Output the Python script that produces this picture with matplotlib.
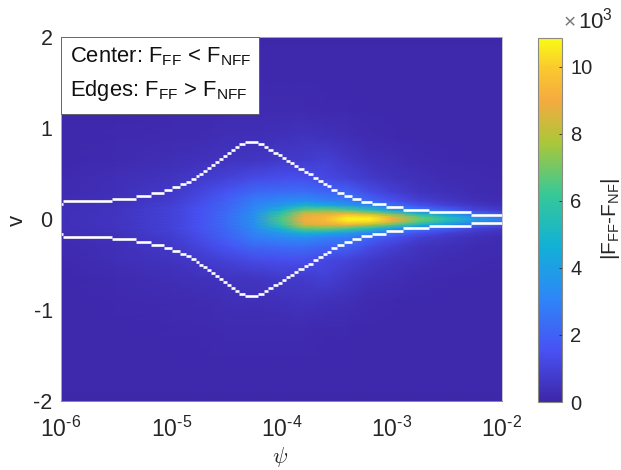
#!/usr/bin/env python3
"""|F_FF - F_NFF| map over psi and v, with the sign-change contour in white."""
import numpy as np
import matplotlib
matplotlib.use("Agg")
import matplotlib.pyplot as plt
from matplotlib.colors import LinearSegmentedColormap
from matplotlib.patches import Rectangle

plt.rcParams["font.family"] = ["Liberation Sans", "DejaVu Sans"]
plt.rcParams["mathtext.fontset"] = "custom"
plt.rcParams["mathtext.rm"] = "Liberation Sans"
plt.rcParams["mathtext.it"] = "Liberation Sans"
plt.rcParams["mathtext.default"] = "regular"

# Grid, values in units of 10^3. Only v >= 0 is kept,
# the map is mirrored around v = 0.
log_psi = [-6, -5.5, -5, -4.75, -4.5, -4.25, -4, -3.8, -3.6, -3.4, -3.2, -3, -2.75, -2.5, -2.25, -2]
v_rows = [0, 0.03, 0.06, 0.1, 0.15, 0.2, 0.3, 0.45, 0.65, 0.9, 1.2, 1.6, 2]
row_000 = [0.35, 0.55, 1.0, 1.5, 2.3, 3.5, 6.5, 9.0, 9.5, 10.8, 10.8, 9.0, 7.0, 5.8, 4.0, 3.0]
row_003 = [0.35, 0.55, 1.0, 1.5, 2.3, 3.5, 6.3, 8.8, 9.3, 10.3, 10.2, 8.5, 6.5, 5.0, 3.3, 2.5]
row_006 = [0.35, 0.5, 1.0, 1.5, 2.3, 3.4, 6.0, 8.4, 8.7, 9.2, 8.0, 6.8, 5.0, 3.7, 2.3, 1.5]
row_010 = [0.3, 0.5, 1.0, 1.5, 2.2, 3.2, 5.0, 6.8, 7.0, 6.5, 5.5, 4.0, 2.7, 2.0, 1.1, 0.7]
row_015 = [0.3, 0.45, 0.9, 1.4, 2.1, 3.0, 3.8, 4.8, 4.5, 3.8, 3.2, 2.5, 1.5, 1.0, 0.6, 0.4]
row_020 = [0.25, 0.4, 0.8, 1.3, 2.0, 2.8, 3.2, 3.4, 3.0, 2.8, 2.2, 1.5, 0.9, 0.6, 0.35, 0.25]
row_030 = [0.2, 0.35, 0.65, 1.1, 1.6, 2.2, 2.3, 2.4, 2.1, 2.0, 1.3, 0.9, 0.5, 0.35, 0.25, 0.2]
row_045 = [0.15, 0.3, 0.5, 0.7, 1.0, 1.3, 1.4, 1.4, 1.2, 1.0, 0.7, 0.5, 0.35, 0.25, 0.2, 0.15]
row_065 = [0.1, 0.2, 0.3, 0.4, 0.5, 0.55, 0.7, 0.75, 0.9, 0.6, 0.4, 0.3, 0.2, 0.15, 0.1, 0.1]
row_090 = [0.1, 0.15, 0.2, 0.25, 0.3, 0.3, 0.4, 0.5, 0.4, 0.3, 0.2, 0.15, 0.1, 0.1, 0.1, 0.1]
row_120 = [0.1, 0.1, 0.15, 0.15, 0.2, 0.2, 0.2, 0.2, 0.15, 0.15, 0.1, 0.1, 0.1, 0.1, 0.1, 0.1]
row_160 = [0.1, 0.1, 0.1, 0.1, 0.1, 0.1, 0.1, 0.1, 0.1, 0.1, 0.1, 0.1, 0.1, 0.1, 0.1, 0.1]
row_200 = [0.05, 0.05, 0.05, 0.05, 0.05, 0.05, 0.05, 0.05, 0.05, 0.05, 0.05, 0.05, 0.05, 0.05, 0.05, 0.05]

# Upper branch of the white contour, as a staircase (lower branch mirrors it).
contour_log_psi = [-6.0, -5.98, -5.54, -5.32, -5.18, -5.07, -4.99, -4.92, -4.87, -4.82, -4.78, -4.75,
                   -4.71, -4.68, -4.64, -4.60, -4.57, -4.53, -4.49, -4.46, -4.42, -4.39, -4.33, -4.21,
                   -4.16, -4.12, -4.08, -4.03, -4.00, -3.96, -3.92, -3.89, -3.85, -3.80, -3.76, -3.71,
                   -3.67, -3.62, -3.59, -3.55, -3.50, -3.43, -3.36, -3.28, -3.18, -3.05, -2.90, -2.66,
                   -2.28, -2.0]
contour_v = [0.17, 0.195, 0.225, 0.255, 0.287, 0.32, 0.35, 0.38, 0.41, 0.44, 0.47, 0.50,
             0.53, 0.56, 0.59, 0.63, 0.66, 0.69, 0.72, 0.76, 0.79, 0.82, 0.85, 0.82,
             0.79, 0.76, 0.73, 0.70, 0.67, 0.64, 0.61, 0.58, 0.55, 0.52, 0.49, 0.45,
             0.42, 0.39, 0.36, 0.32, 0.285, 0.256, 0.22, 0.19, 0.16, 0.13, 0.102, 0.077,
             0.04, 0.04]

x_tick_exp = [-6, -5, -4, -3, -2]
y_ticks = [-2, -1, 0, 1, 2]
cbar_ticks = [0, 2, 4, 6, 8, 10]

parula = LinearSegmentedColormap.from_list("parula", [
    (0.0, (0.2422, 0.1504, 0.6603)), (0.143, (0.2810, 0.3228, 0.9579)),
    (0.286, (0.1786, 0.5289, 0.9682)), (0.429, (0.0689, 0.6948, 0.8394)),
    (0.571, (0.2161, 0.7843, 0.5923)), (0.714, (0.6720, 0.7793, 0.2227)),
    (0.83, (0.96, 0.67, 0.25)), (0.92, (0.98, 0.79, 0.18)),
    (1.0, (0.9769, 0.9839, 0.0805))])

TXT = "#262626"
W, H = 621, 470


def ax_rect(left, top, right, bottom):
    return [left / W, (H - bottom) / H, (right - left) / W, (bottom - top) / H]


def main():
    half = np.array([row_000, row_003, row_006, row_010, row_015, row_020, row_030,
                     row_045, row_065, row_090, row_120, row_160, row_200])
    z = np.vstack([half[:0:-1], half])
    v = np.concatenate([-np.array(v_rows[:0:-1]), np.array(v_rows)])
    psi = 10.0 ** np.array(log_psi)

    fig = plt.figure(figsize=(W / 100, H / 100), dpi=100)
    ax = fig.add_axes(ax_rect(61, 37, 502, 401))
    mesh = ax.pcolormesh(psi, v, z, cmap=parula, vmin=0, vmax=10.85, shading="gouraud")

    # contour cells come out as separate horizontal dashes
    line_x = 10.0 ** np.array(contour_log_psi)
    line_v = np.array(contour_v)
    for sign in (1, -1):
        ax.hlines(sign * line_v[:-1], line_x[:-1], line_x[1:], color="white", lw=1.9)

    ax.set_xscale("log")
    ax.set_xlim(1e-6, 1e-2)
    ax.set_ylim(-2, 2)
    ax.set_xticks([10.0 ** e for e in x_tick_exp])
    ax.set_xticklabels(["10$^{\\text{-}%d}$" % abs(e) for e in x_tick_exp])
    ax.minorticks_off()
    ax.set_yticks(y_ticks)
    ax.set_yticklabels([str(t) for t in y_ticks])
    ax.tick_params(axis="y", labelsize=15.5, colors=TXT, direction="in", length=0, pad=6)
    ax.tick_params(axis="x", labelsize=16.5, colors=TXT, direction="in", length=0, pad=11)
    for sp in ax.spines.values():
        sp.set_color("#b8b8c4")
        sp.set_linewidth(0.6)
    ax.spines["bottom"].set_color("#707078")

    fig.text(17 / W, 1 - 220 / H, "v", fontsize=16, color=TXT, rotation=90, ha="center", va="center")
    fig.text(280 / W, 1 - 457 / H, r"$\mathit{\psi}$", fontsize=16, color=TXT, ha="center", va="center",
             math_fontfamily="cm")

    # text box, upper left
    ax.add_patch(Rectangle((0, 0.7885), 0.4497, 0.2115, transform=ax.transAxes, fc="white",
                           ec="#555555", lw=0.6, zorder=5))
    ax.text(0.02, 0.945, "Center: F$_{FF}$ < F$_{NFF}$", transform=ax.transAxes, fontsize=15.8,
            color="#111111", va="center", zorder=6)
    ax.text(0.02, 0.854, "Edges: F$_{FF}$ > F$_{NFF}$", transform=ax.transAxes, fontsize=15.8,
            color="#111111", va="center", zorder=6)

    cax = fig.add_axes(ax_rect(538, 38, 562, 402))
    cb = fig.colorbar(mesh, cax=cax)
    cb.set_ticks(cbar_ticks)
    cb.ax.tick_params(labelsize=14.5, colors=TXT, direction="in", length=2.5, width=0.6, pad=6)
    cb.outline.set_edgecolor("#8a8a80")
    cb.outline.set_linewidth(0.8)
    fig.text(564 / W, 1 - 23 / H, "×", fontsize=15, color="#777777", ha="left", va="center")
    fig.text(578 / W, 1 - 21 / H, "10$^{3}$", fontsize=16, color=TXT, ha="left", va="center")
    fig.text(610 / W, 1 - 219 / H, "|F$_{FF}$-F$_{NF}$|", fontsize=15, color=TXT, rotation=90,
             ha="center", va="center")

    fig.savefig("out.png", dpi=100)
    plt.close(fig)


if __name__ == "__main__":
    main()
